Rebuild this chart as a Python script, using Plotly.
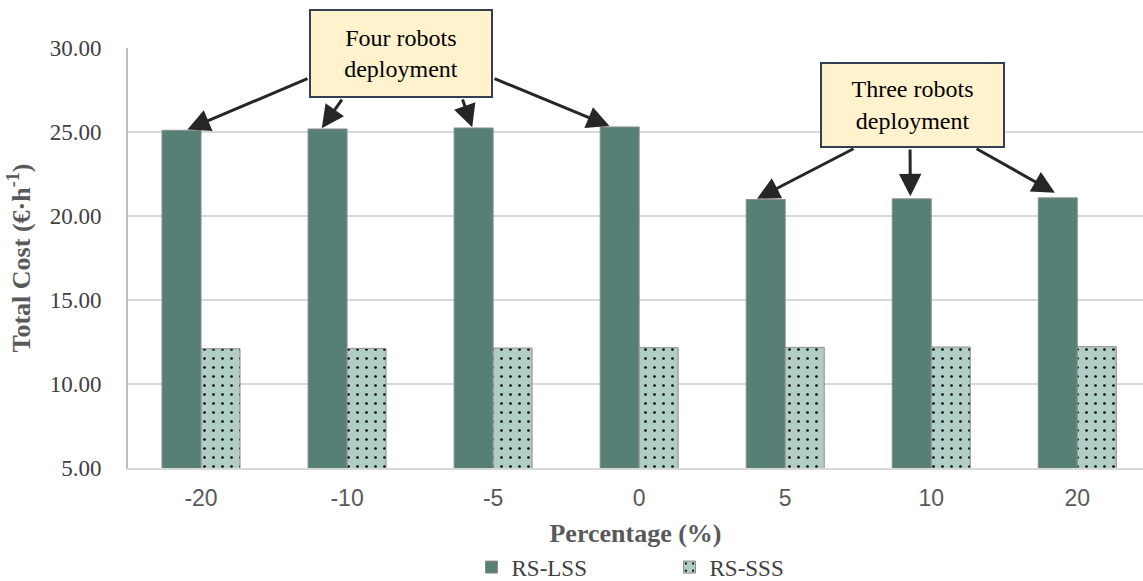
import plotly.graph_objects as go

categories = ["-20", "-10", "-5", "0", "5", "10", "20"]
rs_lss = [25.10, 25.18, 25.24, 25.30, 20.98, 21.02, 21.08]
rs_sss = [12.10, 12.12, 12.14, 12.16, 12.18, 12.20, 12.22]
y_ticks = [5, 10, 15, 20, 25, 30]
y_tick_labels = ["5.00", "10.00", "15.00", "20.00", "25.00", "30.00"]

SERIF = "Liberation Serif"
SANS = "Liberation Sans"

fig = go.Figure()
fig.add_trace(go.Bar(
    x=categories, y=rs_lss, name="RS-LSS",
    marker=dict(color="#567F76", line=dict(color="#8C8C8C", width=1)),
))
fig.add_trace(go.Bar(
    x=categories, y=rs_sss, name="RS-SSS",
    marker=dict(color="#B1CEC6", line=dict(color="#8C8C8C", width=1),
                pattern=dict(shape=".", fgcolor="black", bgcolor="#B1CEC6",
                             size=9, solidity=0.07, fillmode="replace")),
))

# arrows: (tail_x, tail_y, category index, x offset, y value above bar top)
off = -0.133
arrows = [
    (0.739, 28.21, 0, 0.04, rs_lss[0] + 0.05),
    (0.972, 27.02, 1, -0.04, rs_lss[1] + 0.05),
    (1.787, 27.02, 2, -0.01, rs_lss[2] + 0.05),
    (2.000, 28.21, 3, -0.07, rs_lss[3] + 0.05),
    (4.478, 24.05, 4, -0.06, rs_lss[4] + 0.05),
    (4.855, 24.05, 5, -0.01, rs_lss[5] + 0.15),
    (5.300, 24.05, 6, -0.02, rs_lss[6] + 0.3),
]
for tx, ty, i, dx, yv in arrows:
    fig.add_annotation(
        x=i + off + dx, y=yv, xref="x", yref="y",
        ax=tx, ay=ty, axref="x", ayref="y",
        text="", showarrow=True, arrowhead=2, arrowsize=1.5,
        arrowwidth=3, arrowcolor="#262626", standoff=0,
    )

box_style = dict(
    xref="paper", yref="paper", showarrow=False,
    bgcolor="#FFF2CC", bordercolor="#333F50", borderwidth=2, borderpad=0,
    font=dict(family=SERIF, size=24, color="black"),
    xanchor="center", yanchor="middle",
)
fig.add_annotation(text="Four robots<br>deployment", x=0.269, y=0.987,
                   width=180, height=85, **box_style)
fig.add_annotation(text="Three robots<br>deployment", x=0.773, y=0.864,
                   width=181, height=82, **box_style)

fig.update_layout(
    width=1143, height=581,
    margin=dict(l=128, r=0, t=48, b=113, autoexpand=False),
    plot_bgcolor="white", paper_bgcolor="white",
    barmode="group", bargap=0.466, bargroupgap=0,
    showlegend=True,
    legend=dict(orientation="h", x=0.5335, xanchor="center", y=-0.236, yanchor="middle",
                font=dict(family=SERIF, size=23, color="#404040"),
                entrywidth=153, itemwidth=30),
    xaxis=dict(
        type="category", range=[-0.5, 6.45],
        showline=True, linecolor="#D9D9D9", linewidth=2,
        showgrid=False, ticks="",
        tickfont=dict(family=SANS, size=23, color="#595959"),
        ticklabelstandoff=8,
        title=dict(text="<b>Percentage (%)</b>", standoff=14,
                   font=dict(family=SERIF, size=26, color="#595959")),
    ),
    yaxis=dict(
        range=[5, 30], tickvals=y_ticks, ticktext=y_tick_labels,
        showline=True, linecolor="#BFBFBF", linewidth=2,
        showgrid=True, gridcolor="#D9D9D9", gridwidth=2,
        zeroline=False, ticks="",
        tickfont=dict(family=SERIF, size=23, color="#404040"),
        ticklabelstandoff=20,
        title=dict(text="<b>Total Cost (€·h<sup>-1</sup>)</b>", standoff=12,
                   font=dict(family=SERIF, size=26, color="#595959")),
    ),
)

fig.write_html("out.html", config={"displayModeBar": False},
               post_script="document.body.style.margin='0';document.body.style.overflow='hidden';")
